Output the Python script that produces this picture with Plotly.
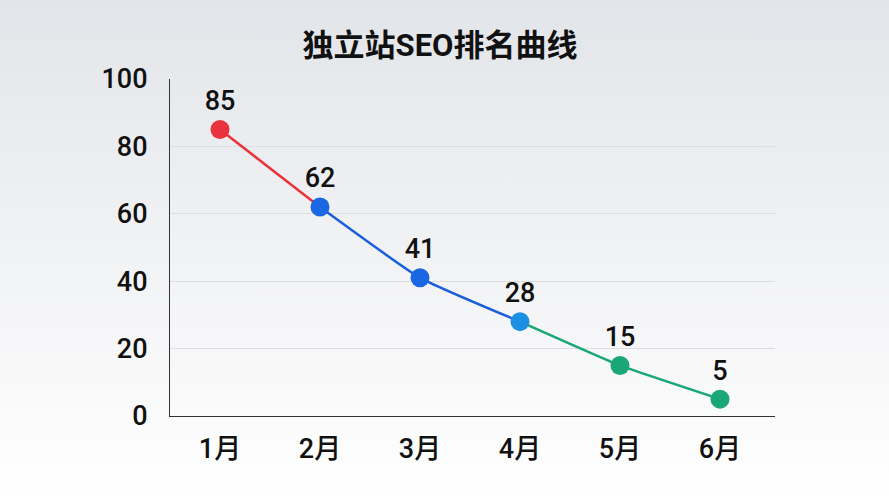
import base64
import plotly.graph_objects as go

months = ["1月", "2月", "3月", "4月", "5月", "6月"]
ranks = [85, 62, 41, 28, 15, 5]
point_colors = ["#e8333c", "#1967e3", "#1967e3", "#1b8fe2", "#1aa676", "#1aa676"]

# segments: (start idx, end idx, colour)
segments = [(0, 1, "#e8333c"), (1, 3, "#1a5fd8"), (3, 5, "#1aa676")]

font = "Roboto, Noto Sans CJK SC, sans-serif"

fig = go.Figure()

for a, b, c in segments:
    fig.add_trace(go.Scatter(
        x=months[a:b + 1], y=ranks[a:b + 1], mode="lines",
        line=dict(color=c, width=2.5, shape="spline", smoothing=0.4),
        hoverinfo="skip", showlegend=False))

fig.add_trace(go.Scatter(
    x=months, y=ranks, mode="markers+text",
    marker=dict(color=point_colors, size=19),
    text=[str(v) for v in ranks], textposition="top center",
    textfont=dict(size=27, color="#111111", family=font, weight=500),
    showlegend=False))

# soft grey-to-white backdrop
svg = ('<svg xmlns="http://www.w3.org/2000/svg" width="889" height="500" preserveAspectRatio="none">'
       '<defs><linearGradient id="g" x1="0" y1="0" x2="0" y2="1">'
       '<stop offset="0" stop-color="#e2e5e9"/><stop offset="0.5" stop-color="#f1f2f4"/>'
       '<stop offset="1" stop-color="#ffffff"/></linearGradient></defs>'
       '<rect width="889" height="500" fill="url(#g)"/></svg>')
bg = "data:image/svg+xml;base64," + base64.b64encode(svg.encode()).decode()

fig.update_layout(
    width=889, height=500,
    margin=dict(l=170, r=114, t=79, b=84),
    paper_bgcolor="#e2e5e9", plot_bgcolor="rgba(0,0,0,0)",
    title=dict(text="<b>独立站SEO排名曲线</b>", x=0.495, xref="container", xanchor="center",
               y=0.91, yanchor="middle", font=dict(size=31, color="#111111", family=font)),
    font=dict(family=font, color="#111111"),
    images=[dict(source=bg, xref="paper", yref="paper", x=-170 / 605, y=1 + 79 / 337,
                 sizex=889 / 605, sizey=500 / 337, sizing="stretch", layer="below",
                 xanchor="left", yanchor="top")],
    xaxis=dict(range=[-0.5, 5.55], showgrid=False, showline=True, linecolor="#333333",
               linewidth=1.2, ticks="", tickfont=dict(size=27, weight=500), ticklabelstandoff=8),
    yaxis=dict(range=[0, 100], tickvals=[0, 20, 40, 60, 80, 100], showgrid=True,
               gridcolor="#dcdee2", gridwidth=1, showline=True, linecolor="#333333",
               linewidth=1.2, zeroline=False, tickfont=dict(size=27, weight=500),
               ticklabelstandoff=16),
)

fig.write_html("out.html", config={"displayModeBar": False},
               post_script="document.body.style.margin='0';")
